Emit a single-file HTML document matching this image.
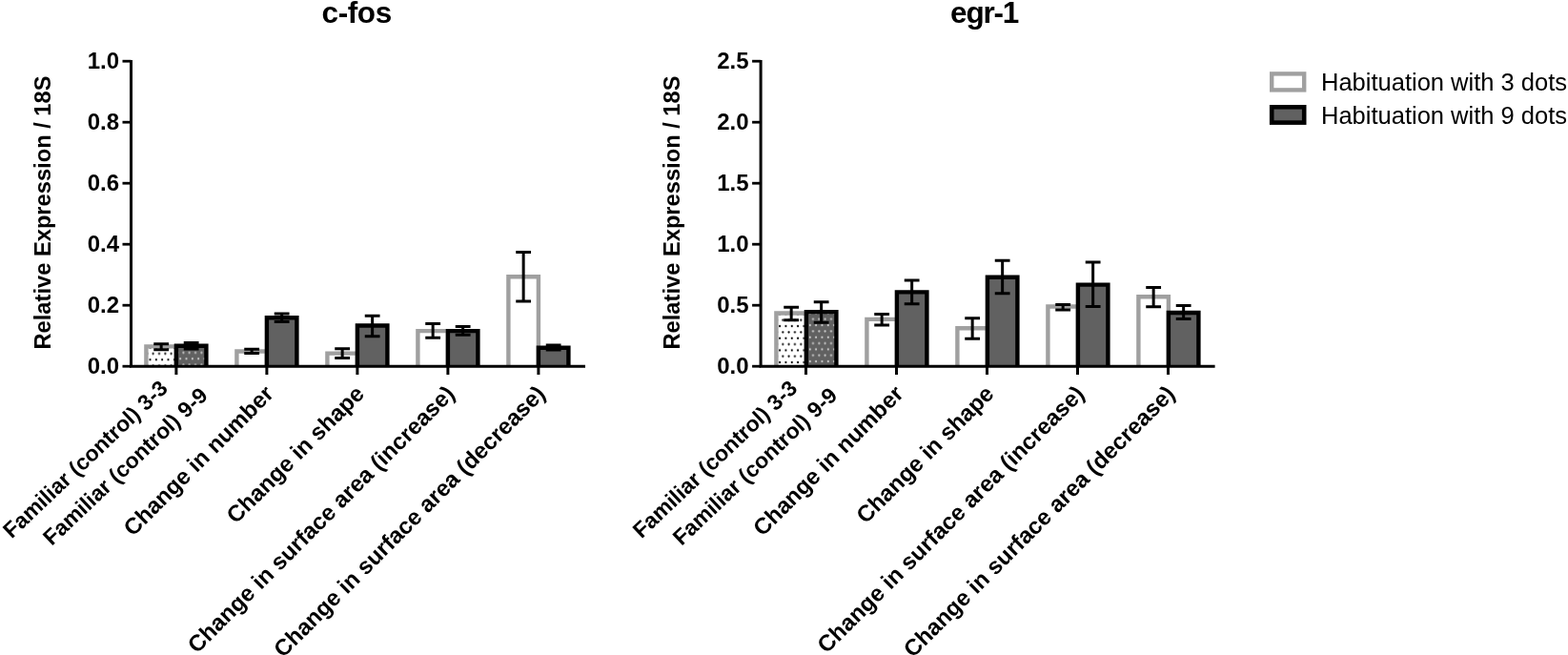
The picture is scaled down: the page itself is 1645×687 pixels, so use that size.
<!DOCTYPE html>
<html><head><meta charset="utf-8"><title>c-fos and egr-1 relative expression</title>
<style>
html,body{margin:0;padding:0;background:#fff;}
svg{display:block;}
text{font-family:'Liberation Sans', Arial, Helvetica, sans-serif;fill:#000;}
.tl{font-size:24px;font-weight:bold;}
.yl{font-size:23.7px;font-weight:bold;}
.ti{font-size:31.5px;font-weight:bold;}
.xl{font-size:24px;font-weight:bold;}
.lg{font-size:25.5px;}
.xf{font-size:23px;}
</style></head><body>
<svg width="1645" height="687" viewBox="0 0 1645 687">
<defs>
<pattern id="plw" patternUnits="userSpaceOnUse" x="157.50" y="377.30" width="6.33" height="12.66"><rect width="6.33" height="12.66" fill="#fff"/><circle cx="0" cy="0" r="1.1" fill="#000"/><circle cx="6.33" cy="0" r="1.1" fill="#000"/><circle cx="3.165" cy="6.33" r="1.1" fill="#000"/><circle cx="0" cy="12.66" r="1.1" fill="#000"/><circle cx="6.33" cy="12.66" r="1.1" fill="#000"/></pattern>
<pattern id="pld" patternUnits="userSpaceOnUse" x="189.20" y="376.30" width="6.33" height="12.66"><rect width="6.33" height="12.66" fill="#616161"/><circle cx="0" cy="0" r="1.1" fill="#ccc"/><circle cx="6.33" cy="0" r="1.1" fill="#ccc"/><circle cx="3.165" cy="6.33" r="1.1" fill="#ccc"/><circle cx="0" cy="12.66" r="1.1" fill="#ccc"/><circle cx="6.33" cy="12.66" r="1.1" fill="#ccc"/></pattern>
<pattern id="prw" patternUnits="userSpaceOnUse" x="818.10" y="380.10" width="6.33" height="12.66"><rect width="6.33" height="12.66" fill="#fff"/><circle cx="0" cy="0" r="1.1" fill="#000"/><circle cx="6.33" cy="0" r="1.1" fill="#000"/><circle cx="3.165" cy="6.33" r="1.1" fill="#000"/><circle cx="0" cy="12.66" r="1.1" fill="#000"/><circle cx="6.33" cy="12.66" r="1.1" fill="#000"/></pattern>
<pattern id="prd" patternUnits="userSpaceOnUse" x="849.80" y="379.10" width="6.33" height="12.66"><rect width="6.33" height="12.66" fill="#616161"/><circle cx="0" cy="0" r="1.1" fill="#ccc"/><circle cx="6.33" cy="0" r="1.1" fill="#ccc"/><circle cx="3.165" cy="6.33" r="1.1" fill="#ccc"/><circle cx="0" cy="12.66" r="1.1" fill="#ccc"/><circle cx="6.33" cy="12.66" r="1.1" fill="#ccc"/></pattern>
</defs>
<rect width="1645" height="687" fill="#fff"/>
<rect x="153.40" y="363.40" width="31.5" height="20.80" fill="url(#plw)"/>
<path d="M153.40 384.20V363.40H184.90V384.20" fill="none" stroke="#a0a0a0" stroke-width="4.4"/>
<rect x="184.90" y="362.80" width="31.5" height="21.40" fill="url(#pld)"/>
<path d="M184.90 384.20V362.80H216.40V384.20" fill="none" stroke="#000" stroke-width="4.4"/>
<rect x="248.40" y="368.50" width="31.5" height="15.70" fill="#fff"/>
<path d="M248.40 384.20V368.50H279.90V384.20" fill="none" stroke="#a0a0a0" stroke-width="4.4"/>
<rect x="279.90" y="333.20" width="31.5" height="51.00" fill="#616161"/>
<path d="M279.90 384.20V333.20H311.40V384.20" fill="none" stroke="#000" stroke-width="4.4"/>
<rect x="343.40" y="370.60" width="31.5" height="13.60" fill="#fff"/>
<path d="M343.40 384.20V370.60H374.90V384.20" fill="none" stroke="#a0a0a0" stroke-width="4.4"/>
<rect x="374.90" y="341.50" width="31.5" height="42.70" fill="#616161"/>
<path d="M374.90 384.20V341.50H406.40V384.20" fill="none" stroke="#000" stroke-width="4.4"/>
<rect x="438.40" y="347.10" width="31.5" height="37.10" fill="#fff"/>
<path d="M438.40 384.20V347.10H469.90V384.20" fill="none" stroke="#a0a0a0" stroke-width="4.4"/>
<rect x="469.90" y="347.10" width="31.5" height="37.10" fill="#616161"/>
<path d="M469.90 384.20V347.10H501.40V384.20" fill="none" stroke="#000" stroke-width="4.4"/>
<rect x="533.40" y="290.20" width="31.5" height="94.00" fill="#fff"/>
<path d="M533.40 384.20V290.20H564.90V384.20" fill="none" stroke="#a0a0a0" stroke-width="4.4"/>
<rect x="564.90" y="364.70" width="31.5" height="19.50" fill="#616161"/>
<path d="M564.90 384.20V364.70H596.40V384.20" fill="none" stroke="#000" stroke-width="4.4"/>
<path d="M169.15 360.70V366.70M161.25 360.70h15.8M161.25 366.70h15.8" stroke="#000" stroke-width="3" fill="none"/>
<path d="M200.65 359.60V366.00M192.75 359.60h15.8M192.75 366.00h15.8" stroke="#000" stroke-width="3" fill="none"/>
<path d="M264.15 366.20V370.60M256.25 366.20h15.8M256.25 370.60h15.8" stroke="#000" stroke-width="3" fill="none"/>
<path d="M295.65 328.90V337.50M287.75 328.90h15.8M287.75 337.50h15.8" stroke="#000" stroke-width="3" fill="none"/>
<path d="M359.15 365.80V375.40M351.25 365.80h15.8M351.25 375.40h15.8" stroke="#000" stroke-width="3" fill="none"/>
<path d="M390.65 331.20V352.80M382.75 331.20h15.8M382.75 352.80h15.8" stroke="#000" stroke-width="3" fill="none"/>
<path d="M454.15 339.60V354.20M446.25 339.60h15.8M446.25 354.20h15.8" stroke="#000" stroke-width="3" fill="none"/>
<path d="M485.65 342.40V351.30M477.75 342.40h15.8M477.75 351.30h15.8" stroke="#000" stroke-width="3" fill="none"/>
<path d="M549.15 264.40V316.00M541.25 264.40h15.8M541.25 316.00h15.8" stroke="#000" stroke-width="3" fill="none"/>
<path d="M580.65 362.00V367.00M572.75 362.00h15.8M572.75 367.00h15.8" stroke="#000" stroke-width="3" fill="none"/>
<path d="M137.50 63V385.7M136.00 384.20H614.00" stroke="#000" stroke-width="3" fill="none"/>
<path d="M128.50 384.20H137.50" stroke="#000" stroke-width="2.8"/>
<text x="125.00" y="391.90" text-anchor="end" class="tl">0.0</text>
<path d="M128.50 320.20H137.50" stroke="#000" stroke-width="2.8"/>
<text x="125.00" y="327.90" text-anchor="end" class="tl">0.2</text>
<path d="M128.50 256.20H137.50" stroke="#000" stroke-width="2.8"/>
<text x="125.00" y="263.90" text-anchor="end" class="tl">0.4</text>
<path d="M128.50 192.20H137.50" stroke="#000" stroke-width="2.8"/>
<text x="125.00" y="199.90" text-anchor="end" class="tl">0.6</text>
<path d="M128.50 128.20H137.50" stroke="#000" stroke-width="2.8"/>
<text x="125.00" y="135.90" text-anchor="end" class="tl">0.8</text>
<path d="M128.50 64.20H137.50" stroke="#000" stroke-width="2.8"/>
<text x="125.00" y="71.90" text-anchor="end" class="tl">1.0</text>
<path d="M184.90 384.20V393" stroke="#000" stroke-width="3"/>
<path d="M279.90 384.20V393" stroke="#000" stroke-width="3"/>
<path d="M374.90 384.20V393" stroke="#000" stroke-width="3"/>
<path d="M469.90 384.20V393" stroke="#000" stroke-width="3"/>
<path d="M564.90 384.20V393" stroke="#000" stroke-width="3"/>
<text transform="translate(52.50,223) rotate(-90)" text-anchor="middle" class="yl">Relative Expression / 18S</text>
<text x="374.2" y="23.5" text-anchor="middle" class="ti" letter-spacing="-0.4">c-fos</text>
<rect x="814.40" y="328.50" width="31.5" height="55.70" fill="url(#prw)"/>
<path d="M814.40 384.20V328.50H845.90V384.20" fill="none" stroke="#a0a0a0" stroke-width="4.4"/>
<rect x="845.90" y="327.10" width="31.5" height="57.10" fill="url(#prd)"/>
<path d="M845.90 384.20V327.10H877.40V384.20" fill="none" stroke="#000" stroke-width="4.4"/>
<rect x="909.40" y="334.90" width="31.5" height="49.30" fill="#fff"/>
<path d="M909.40 384.20V334.90H940.90V384.20" fill="none" stroke="#a0a0a0" stroke-width="4.4"/>
<rect x="940.90" y="306.40" width="31.5" height="77.80" fill="#616161"/>
<path d="M940.90 384.20V306.40H972.40V384.20" fill="none" stroke="#000" stroke-width="4.4"/>
<rect x="1004.40" y="344.30" width="31.5" height="39.90" fill="#fff"/>
<path d="M1004.40 384.20V344.30H1035.90V384.20" fill="none" stroke="#a0a0a0" stroke-width="4.4"/>
<rect x="1035.90" y="290.70" width="31.5" height="93.50" fill="#616161"/>
<path d="M1035.90 384.20V290.70H1067.40V384.20" fill="none" stroke="#000" stroke-width="4.4"/>
<rect x="1099.40" y="321.50" width="31.5" height="62.70" fill="#fff"/>
<path d="M1099.40 384.20V321.50H1130.90V384.20" fill="none" stroke="#a0a0a0" stroke-width="4.4"/>
<rect x="1130.90" y="298.60" width="31.5" height="85.60" fill="#616161"/>
<path d="M1130.90 384.20V298.60H1162.40V384.20" fill="none" stroke="#000" stroke-width="4.4"/>
<rect x="1194.40" y="311.30" width="31.5" height="72.90" fill="#fff"/>
<path d="M1194.40 384.20V311.30H1225.90V384.20" fill="none" stroke="#a0a0a0" stroke-width="4.4"/>
<rect x="1225.90" y="328.00" width="31.5" height="56.20" fill="#616161"/>
<path d="M1225.90 384.20V328.00H1257.40V384.20" fill="none" stroke="#000" stroke-width="4.4"/>
<path d="M830.15 322.30V335.70M822.25 322.30h15.8M822.25 335.70h15.8" stroke="#000" stroke-width="3" fill="none"/>
<path d="M861.65 316.70V338.20M853.75 316.70h15.8M853.75 338.20h15.8" stroke="#000" stroke-width="3" fill="none"/>
<path d="M925.15 329.60V340.90M917.25 329.60h15.8M917.25 340.90h15.8" stroke="#000" stroke-width="3" fill="none"/>
<path d="M956.65 293.90V318.70M948.75 293.90h15.8M948.75 318.70h15.8" stroke="#000" stroke-width="3" fill="none"/>
<path d="M1020.15 333.70V355.30M1012.25 333.70h15.8M1012.25 355.30h15.8" stroke="#000" stroke-width="3" fill="none"/>
<path d="M1051.65 273.30V307.70M1043.75 273.30h15.8M1043.75 307.70h15.8" stroke="#000" stroke-width="3" fill="none"/>
<path d="M1115.15 319.50V324.90M1107.25 319.50h15.8M1107.25 324.90h15.8" stroke="#000" stroke-width="3" fill="none"/>
<path d="M1146.65 275.00V321.40M1138.75 275.00h15.8M1138.75 321.40h15.8" stroke="#000" stroke-width="3" fill="none"/>
<path d="M1210.15 301.60V321.70M1202.25 301.60h15.8M1202.25 321.70h15.8" stroke="#000" stroke-width="3" fill="none"/>
<path d="M1241.65 320.40V334.50M1233.75 320.40h15.8M1233.75 334.50h15.8" stroke="#000" stroke-width="3" fill="none"/>
<path d="M798.10 63V385.7M796.60 384.20H1274.60" stroke="#000" stroke-width="3" fill="none"/>
<path d="M789.10 384.20H798.10" stroke="#000" stroke-width="2.8"/>
<text x="785.60" y="391.90" text-anchor="end" class="tl">0.0</text>
<path d="M789.10 320.20H798.10" stroke="#000" stroke-width="2.8"/>
<text x="785.60" y="327.90" text-anchor="end" class="tl">0.5</text>
<path d="M789.10 256.20H798.10" stroke="#000" stroke-width="2.8"/>
<text x="785.60" y="263.90" text-anchor="end" class="tl">1.0</text>
<path d="M789.10 192.20H798.10" stroke="#000" stroke-width="2.8"/>
<text x="785.60" y="199.90" text-anchor="end" class="tl">1.5</text>
<path d="M789.10 128.20H798.10" stroke="#000" stroke-width="2.8"/>
<text x="785.60" y="135.90" text-anchor="end" class="tl">2.0</text>
<path d="M789.10 64.20H798.10" stroke="#000" stroke-width="2.8"/>
<text x="785.60" y="71.90" text-anchor="end" class="tl">2.5</text>
<path d="M845.50 384.20V393" stroke="#000" stroke-width="3"/>
<path d="M940.50 384.20V393" stroke="#000" stroke-width="3"/>
<path d="M1035.50 384.20V393" stroke="#000" stroke-width="3"/>
<path d="M1130.50 384.20V393" stroke="#000" stroke-width="3"/>
<path d="M1225.50 384.20V393" stroke="#000" stroke-width="3"/>
<text transform="translate(713.10,223) rotate(-90)" text-anchor="middle" class="yl">Relative Expression / 18S</text>
<text x="1032.6" y="23.5" text-anchor="middle" class="ti" letter-spacing="-1.2">egr-1</text>
<text transform="translate(177.30,409.00) rotate(-43.5)" text-anchor="end" class="xl xf">Familiar (control) 3-3</text>
<text transform="translate(219.30,416.50) rotate(-43.5)" text-anchor="end" class="xl xf">Familiar (control) 9-9</text>
<text transform="translate(288.40,414.50) rotate(-45)" text-anchor="end" class="xl">Change in number</text>
<text transform="translate(383.40,414.50) rotate(-45)" text-anchor="end" class="xl">Change in shape</text>
<text transform="translate(478.40,414.50) rotate(-45)" text-anchor="end" class="xl">Change in surface area (increase)</text>
<text transform="translate(573.40,414.50) rotate(-45)" text-anchor="end" class="xl">Change in surface area (decrease)</text>
<text transform="translate(837.90,409.00) rotate(-43.5)" text-anchor="end" class="xl xf">Familiar (control) 3-3</text>
<text transform="translate(879.90,416.50) rotate(-43.5)" text-anchor="end" class="xl xf">Familiar (control) 9-9</text>
<text transform="translate(949.00,414.50) rotate(-45)" text-anchor="end" class="xl">Change in number</text>
<text transform="translate(1044.00,414.50) rotate(-45)" text-anchor="end" class="xl">Change in shape</text>
<text transform="translate(1139.00,414.50) rotate(-45)" text-anchor="end" class="xl">Change in surface area (increase)</text>
<text transform="translate(1234.00,414.50) rotate(-45)" text-anchor="end" class="xl">Change in surface area (decrease)</text>
<rect x="1334.2" y="77.4" width="34" height="17" fill="#fff" stroke="#a0a0a0" stroke-width="4.4"/>
<rect x="1334.2" y="112.3" width="34" height="16.3" fill="#616161" stroke="#000" stroke-width="4.6"/>
<text x="1386" y="95.2" class="lg">Habituation with 3 dots</text>
<text x="1386" y="129.5" class="lg">Habituation with 9 dots</text>
</svg>
</body></html>
